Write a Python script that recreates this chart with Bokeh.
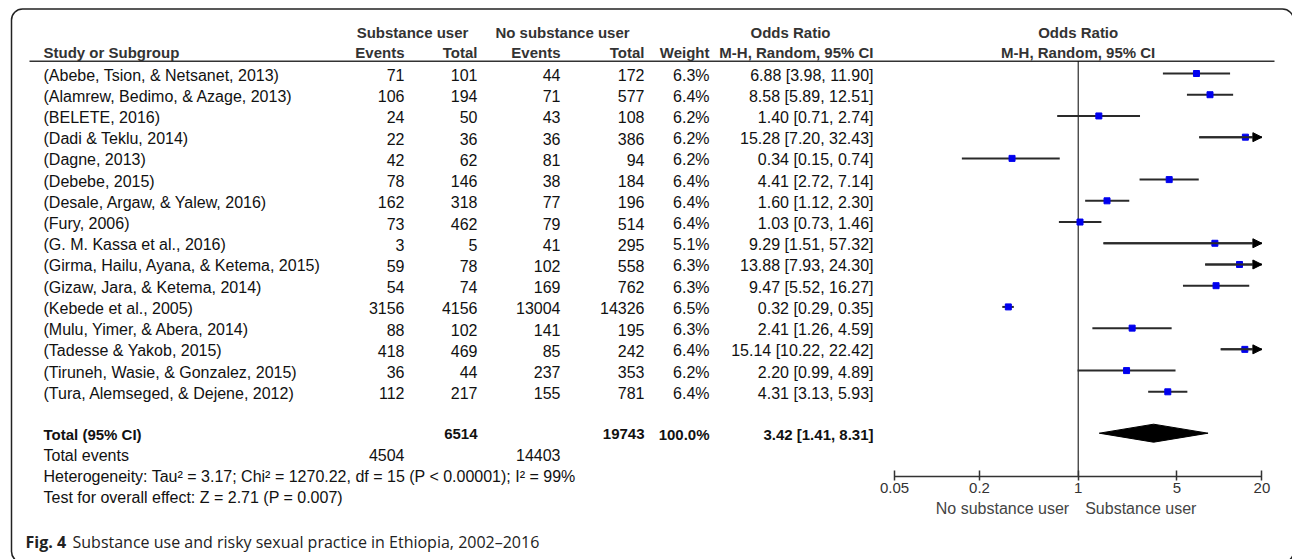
from bokeh.plotting import figure
from bokeh.models import (ColumnDataSource, Range1d, LogScale, LogAxis, FixedTicker,
                          CustomJSTickFormatter, Arrow, NormalHead)
from bokeh.core.properties import value
from bokeh.embed import file_html
from bokeh.resources import INLINE

# ---------------- data ----------------
studies = ["(Abebe, Tsion, & Netsanet, 2013)", "(Alamrew, Bedimo, & Azage, 2013)",
           "(BELETE, 2016)", "(Dadi & Teklu, 2014)", "(Dagne, 2013)", "(Debebe, 2015)",
           "(Desale, Argaw, & Yalew, 2016)", "(Fury, 2006)", "(G. M. Kassa et al., 2016)",
           "(Girma, Hailu, Ayana, & Ketema, 2015)", "(Gizaw, Jara, & Ketema, 2014)",
           "(Kebede et al., 2005)", "(Mulu, Yimer, & Abera, 2014)", "(Tadesse & Yakob, 2015)",
           "(Tiruneh, Wasie, & Gonzalez, 2015)", "(Tura, Alemseged, & Dejene, 2012)"]
events_user = [71, 106, 24, 22, 42, 78, 162, 73, 3, 59, 54, 3156, 88, 418, 36, 112]
total_user = [101, 194, 50, 36, 62, 146, 318, 462, 5, 78, 74, 4156, 102, 469, 44, 217]
events_non = [44, 71, 43, 36, 81, 38, 77, 79, 41, 102, 169, 13004, 141, 85, 237, 155]
total_non = [172, 577, 108, 386, 94, 184, 196, 514, 295, 558, 762, 14326, 195, 242, 353, 781]
weights = [6.3, 6.4, 6.2, 6.2, 6.2, 6.4, 6.4, 6.4, 5.1, 6.3, 6.3, 6.5, 6.3, 6.4, 6.2, 6.4]
odds = [6.88, 8.58, 1.40, 15.28, 0.34, 4.41, 1.60, 1.03, 9.29, 13.88, 9.47, 0.32, 2.41, 15.14, 2.20, 4.31]
ci_low = [3.98, 5.89, 0.71, 7.20, 0.15, 2.72, 1.12, 0.73, 1.51, 7.93, 5.52, 0.29, 1.26, 10.22, 0.99, 3.13]
ci_high = [11.90, 12.51, 2.74, 32.43, 0.74, 7.14, 2.30, 1.46, 57.32, 24.30, 16.27, 0.35, 4.59, 22.42, 4.89, 5.93]

total_n_user = 6514
total_n_non = 19743
total_weight = 100.0
total_events_user = 4504
total_events_non = 14403
pooled_or, pooled_low, pooled_high = 3.42, 1.41, 8.31
heterogeneity = "Heterogeneity: Tau\u00b2 = 3.17; Chi\u00b2 = 1270.22, df = 15 (P < 0.00001); I\u00b2 = 99%"
overall_test = "Test for overall effect: Z = 2.71 (P = 0.007)"
tick_values = [0.05, 0.2, 1, 5, 20]
favours_left = "No substance user"
favours_right = "Substance user"
caption_bold = "Fig. 4"
caption_text = "Substance use and risky sexual practice in Ethiopia, 2002\u20132016"

# ---------------- layout ----------------
W, H = 1292, 559
FONT = "Liberation Sans"
FS = "16px"
FS_BOLD = "15px"
BODY = "#111111"
HEAD = "#333333"

p = figure(width=W, height=H, x_range=Range1d(0, W), y_range=Range1d(H, 0),
           x_axis_location=None, y_axis_location=None, min_border=0,
           toolbar_location=None, output_backend="svg", tools="")
p.outline_line_color = None
p.grid.visible = False

# log scale for odds ratios, sized so 0.05..20 spans the forest panel
X_ONE = 1077.7
PX_DEC = 141.2
p.extra_x_ranges = {"or": Range1d(10 ** ((0 - X_ONE) / PX_DEC), 10 ** ((W - X_ONE) / PX_DEC))}
p.extra_x_scales = {"or": LogScale()}

# rounded border
p.quad(left=[11], right=[1293], top=[8.5], bottom=[562], border_radius=11,
       fill_color=None, line_color="#222222", line_width=1.5)

def txt(x, y, texts, align="left", bold=False, color=BODY, font=FONT, size=None, **kw):
    if size is None:
        size = FS_BOLD if bold else FS
    src = ColumnDataSource(dict(x=list(x), y=list(y), t=list(texts)))
    p.text(x="x", y="y", text="t", source=src, text_align=align, text_baseline="middle",
           text_font=value(font), text_font_size=value(size),
           text_font_style="bold" if bold else "normal", text_color=color, **kw)

n = len(studies)
ROW0, PITCH = 73.0, 21.22
row_y = [ROW0 + PITCH * i for i in range(n)]
text_y = [y + 1.5 for y in row_y]

# column right edges
C_EV1, C_TOT1, C_EV2, C_TOT2, C_W, C_OR = 404, 477, 560, 644, 709, 873
C_STUDY = 43

# headers
HY1, HY2 = 32, 52
txt([412, 562], [HY1, HY1], ["Substance user", "No substance user"], align="center", bold=True, color=HEAD)
txt([790], [HY1], ["Odds Ratio"], align="center", bold=True, color=HEAD)
txt([C_STUDY], [HY2], ["Study or Subgroup"], bold=True, color=HEAD)
txt([C_EV1, C_TOT1, C_EV2, C_TOT2, C_W, C_OR], [HY2] * 6,
    ["Events", "Total", "Events", "Total", "Weight", "M-H, Random, 95% CI"], align="right", bold=True, color=HEAD)
txt([1, 1], [HY1, HY2], ["Odds Ratio", "M-H, Random, 95% CI"], align="center", bold=True, color=HEAD,
    x_range_name="or")

# header rule
p.segment(x0=[29], x1=[1274], y0=[60.7], y1=[60.7], line_color="#333333", line_width=1.5)

# study rows
txt([C_STUDY] * n, text_y, studies)
txt([C_EV1] * n, text_y, [str(v) for v in events_user], align="right")
txt([C_TOT1] * n, text_y, [str(v) for v in total_user], align="right")
txt([C_EV2] * n, text_y, [str(v) for v in events_non], align="right")
txt([C_TOT2] * n, text_y, [str(v) for v in total_non], align="right")
txt([C_W] * n, text_y, [f"{w:.1f}%" for w in weights], align="right")
txt([C_OR] * n, text_y, [f"{o:.2f} [{l:.2f}, {h:.2f}]" for o, l, h in zip(odds, ci_low, ci_high)], align="right")

# totals
TY = 432.7
txt([C_STUDY], [TY + 1], ["Total (95% CI)"], bold=True)
txt([C_TOT1, C_TOT2, C_W, C_OR], [TY + 1] * 4,
    [str(total_n_user), str(total_n_non), f"{total_weight:.1f}%",
     f"{pooled_or:.2f} [{pooled_low:.2f}, {pooled_high:.2f}]"], align="right", bold=True)
txt([C_STUDY], [TY + 22], ["Total events"])
txt([C_EV1, C_EV2], [TY + 22] * 2, [str(total_events_user), str(total_events_non)], align="right")
txt([C_STUDY, C_STUDY], [TY + 43, TY + 64], [heterogeneity, overall_test])

# forest plot
AXIS_Y = 476
xmax = tick_values[-1]
p.segment(x0=[1], x1=[1], y0=[60.7], y1=[AXIS_Y], line_color="#000000", line_width=1,
          x_range_name="or")
ci_src = ColumnDataSource(dict(lo=ci_low, hi=[min(h, xmax) for h in ci_high], y=row_y, o=odds))
p.segment(x0="lo", x1="hi", y0="y", y1="y", source=ci_src, line_color="#2a2a2a", line_width=2,
          x_range_name="or")
arr_idx = [i for i, h in enumerate(ci_high) if h > xmax]
arr_src = ColumnDataSource(dict(x0=[ci_low[i] for i in arr_idx], x1=[xmax] * len(arr_idx),
                                y=[row_y[i] for i in arr_idx]))
p.add_layout(Arrow(end=NormalHead(size=9, fill_color="#000000", line_color="#000000", line_width=1),
                   x_start="x0", y_start="y", x_end="x1", y_end="y", source=arr_src,
                   line_color="#2a2a2a", line_width=2, x_range_name="or"))
p.scatter(x="o", y="y", source=ci_src, marker="square", size=6, fill_color="#0000ee",
          line_color="#0000ee", x_range_name="or")

# pooled diamond
p.patch(x=[pooled_low, pooled_or, pooled_high, pooled_or], y=[TY, TY - 9, TY, TY + 9],
        fill_color="#000000", line_color="#000000", x_range_name="or")

# axis
ax = LogAxis(x_range_name="or", fixed_location=AXIS_Y, bounds=(tick_values[0], tick_values[-1]),
             ticker=FixedTicker(ticks=tick_values, minor_ticks=[]),
             formatter=CustomJSTickFormatter(code="return tick.toString()"))
ax.axis_line_color = "#333333"
ax.axis_line_width = 1.5
ax.major_tick_line_color = "#333333"
ax.major_tick_line_width = 1.5
ax.major_tick_in = 6
ax.major_tick_out = 4
ax.minor_tick_line_color = None
ax.major_label_standoff = 2
ax.major_label_text_font = FONT
ax.major_label_text_font_size = "15px"
ax.major_label_text_color = "#333333"
p.add_layout(ax, "below")

txt([1], [508], [favours_left], align="right", color="#444444", x_range_name="or", x_offset=-9)
txt([1], [508], [favours_right], align="left", color="#444444", x_range_name="or", x_offset=7)

# caption
txt([25], [541], [caption_bold], bold=True, color="#222222", font="Open Sans", size="16px")
txt([72], [541], [caption_text], color="#222222", font="Open Sans", size="16px")

open("out.html", "w").write(file_html(p, INLINE))
